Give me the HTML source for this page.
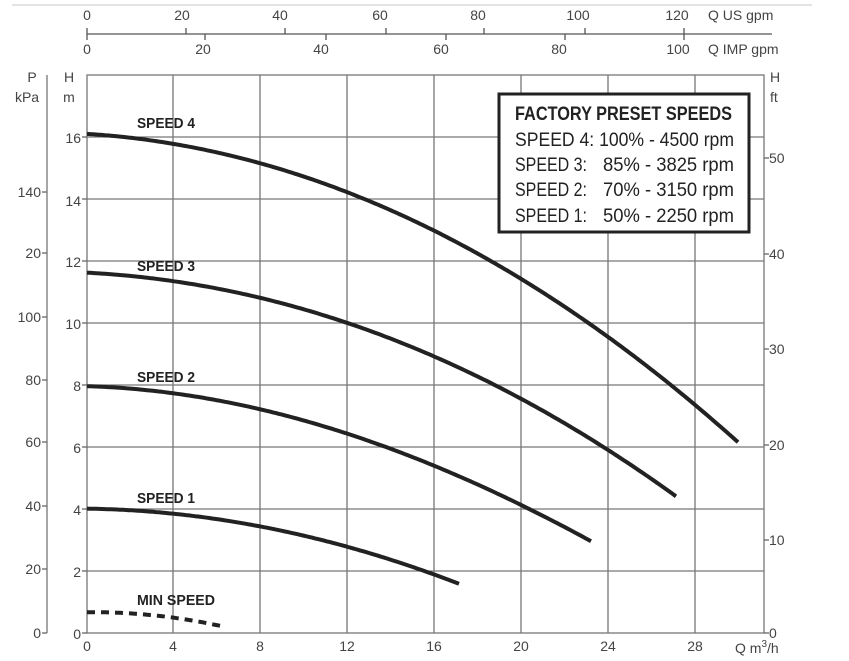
<!DOCTYPE html>
<html><head><meta charset="utf-8"><style>
html,body{margin:0;padding:0;background:#fff;}
svg{display:block;font-family:"Liberation Sans",sans-serif;}
</style></head><body>
<svg id="s" width="849" height="661" viewBox="0 0 849 661" xmlns="http://www.w3.org/2000/svg">
<line x1="12" y1="5" x2="812" y2="5" stroke="#e4e4e4" stroke-width="2"/>
<g stroke="#555" stroke-width="1.3">
<line x1="87" y1="34" x2="772" y2="34"/>
<line x1="87" y1="28" x2="87" y2="40"/>
<line x1="186" y1="28" x2="186" y2="34"/><line x1="285" y1="28" x2="285" y2="34"/><line x1="386" y1="28" x2="386" y2="34"/><line x1="484" y1="28" x2="484" y2="34"/><line x1="585" y1="28" x2="585" y2="34"/><line x1="684" y1="28" x2="684" y2="34"/>
<line x1="205" y1="34" x2="205" y2="40"/><line x1="326" y1="34" x2="326" y2="40"/><line x1="446" y1="34" x2="446" y2="40"/><line x1="565" y1="34" x2="565" y2="40"/><line x1="684" y1="34" x2="684" y2="40"/>
</g>
<g font-size="14" fill="#444" text-anchor="middle">
<text x="87" y="20">0</text><text x="182" y="20">20</text><text x="280" y="20">40</text><text x="380" y="20">60</text><text x="478" y="20">80</text><text x="578" y="20">100</text><text x="677" y="20">120</text>
<text x="87" y="54">0</text><text x="203" y="54">20</text><text x="321" y="54">40</text><text x="441" y="54">60</text><text x="559" y="54">80</text><text x="678" y="54">100</text>
</g>
<g font-size="14" fill="#444"><text x="708" y="20">Q US gpm</text><text x="708" y="54">Q IMP gpm</text></g>
<g stroke="#777" stroke-width="1.3" fill="none">
<rect x="87" y="75" width="677" height="558"/>
<line x1="173" y1="75" x2="173" y2="633"/><line x1="260" y1="75" x2="260" y2="633"/><line x1="347" y1="75" x2="347" y2="633"/><line x1="434" y1="75" x2="434" y2="633"/><line x1="521" y1="75" x2="521" y2="633"/><line x1="608" y1="75" x2="608" y2="633"/><line x1="695" y1="75" x2="695" y2="633"/>
<line x1="87" y1="137" x2="764" y2="137"/><line x1="87" y1="199" x2="764" y2="199"/><line x1="87" y1="261" x2="764" y2="261"/><line x1="87" y1="323" x2="764" y2="323"/><line x1="87" y1="385" x2="764" y2="385"/><line x1="87" y1="447" x2="764" y2="447"/><line x1="87" y1="509" x2="764" y2="509"/><line x1="87" y1="571" x2="764" y2="571"/>
<line x1="47" y1="75" x2="47" y2="633"/>
<g stroke="#666"><line x1="42" y1="192" x2="47" y2="192"/><line x1="42" y1="253" x2="47" y2="253"/><line x1="42" y1="317" x2="47" y2="317"/><line x1="42" y1="380" x2="47" y2="380"/><line x1="42" y1="442" x2="47" y2="442"/><line x1="42" y1="506" x2="47" y2="506"/><line x1="42" y1="569" x2="47" y2="569"/><line x1="42" y1="633" x2="47" y2="633"/>
<line x1="764" y1="158" x2="769" y2="158"/><line x1="764" y1="254" x2="769" y2="254"/><line x1="764" y1="349" x2="769" y2="349"/><line x1="764" y1="445" x2="769" y2="445"/><line x1="764" y1="540" x2="769" y2="540"/><line x1="764" y1="633" x2="769" y2="633"/>
<line x1="82" y1="137" x2="87" y2="137"/><line x1="82" y1="199" x2="87" y2="199"/><line x1="82" y1="261" x2="87" y2="261"/><line x1="82" y1="323" x2="87" y2="323"/><line x1="82" y1="385" x2="87" y2="385"/><line x1="82" y1="447" x2="87" y2="447"/><line x1="82" y1="509" x2="87" y2="509"/><line x1="82" y1="571" x2="87" y2="571"/><line x1="82" y1="633" x2="87" y2="633"/></g>
</g>
<g font-size="14" fill="#444">
<text x="32" y="82" text-anchor="middle">P</text><text x="27" y="102" text-anchor="middle">kPa</text>
<text x="69" y="82" text-anchor="middle">H</text><text x="69" y="102" text-anchor="middle">m</text>
<text x="770" y="82">H</text><text x="770" y="102">ft</text>
<g text-anchor="end"><text x="41" y="197">140</text><text x="41" y="258">20</text><text x="41" y="322">100</text><text x="41" y="385">80</text><text x="41" y="447">60</text><text x="41" y="511">40</text><text x="41" y="574">20</text><text x="41" y="638">0</text>
<text x="81" y="143">16</text><text x="81" y="206">14</text><text x="81" y="267">12</text><text x="81" y="329">10</text><text x="81" y="391">8</text><text x="81" y="453">6</text><text x="81" y="515">4</text><text x="81" y="577">2</text><text x="81" y="639">0</text></g>
<text x="769" y="163">50</text><text x="769" y="259">40</text><text x="769" y="354">30</text><text x="769" y="450">20</text><text x="769" y="545">10</text><text x="769" y="638">0</text>
<g text-anchor="middle"><text x="87" y="651">0</text><text x="173" y="651">4</text><text x="260" y="651">8</text><text x="347" y="651">12</text><text x="434" y="651">16</text><text x="521" y="651">20</text><text x="608" y="651">24</text><text x="695" y="651">28</text></g>
<text x="735" y="653">Q m<tspan font-size="10" dy="-6">3</tspan><tspan dy="6">/h</tspan></text>
</g>
<g id="curves" fill="none" stroke="#222" stroke-width="4" stroke-linecap="butt" stroke-linejoin="round">
<polyline id="c4" points="87,135 130,137 173,143 220,152 260,164 305,177 347,193 390,210 434,230 478,254 521,280 565,307 608,337 652,369 695,403 738,444"/>
<polyline id="c3" points="87,273 130,276 173,281 217,288 260,297 303,309 347,323 390,339 434,358 478,377 521,398 565,422 608,450 643,473 676,497"/>
<polyline id="c2" points="87,386 130,389 173,393 217,400 260,409 303,421 347,435 390,448 434,463 478,484 521,508 556,523 591,540"/>
<polyline id="c1" points="87,509 130,510 173,513 217,519 260,527 303,536 347,547 390,559 434,573 459,585"/>
<polyline id="c0" points="87,612 130,614 173,617 220,626" stroke-dasharray="8,6"/>
</g>
<g font-size="15" font-weight="bold" fill="#222">
<text x="137" y="128" textLength="58" lengthAdjust="spacingAndGlyphs">SPEED 4</text>
<text x="137" y="271" textLength="58" lengthAdjust="spacingAndGlyphs">SPEED 3</text>
<text x="137" y="382" textLength="58" lengthAdjust="spacingAndGlyphs">SPEED 2</text>
<text x="137" y="503" textLength="58" lengthAdjust="spacingAndGlyphs">SPEED 1</text>
<text x="137" y="605" textLength="78" lengthAdjust="spacingAndGlyphs">MIN SPEED</text>
</g>
<rect x="499" y="94" width="250" height="138" fill="#fff" stroke="#222" stroke-width="3"/>
<g fill="#222" font-size="19">
<text x="515" y="120" font-weight="bold" textLength="217" lengthAdjust="spacingAndGlyphs">FACTORY PRESET SPEEDS</text>
<text x="515" y="146" textLength="219" lengthAdjust="spacingAndGlyphs">SPEED 4: 100% - 4500 rpm</text>
<text x="515" y="171" textLength="72" lengthAdjust="spacingAndGlyphs">SPEED 3:</text><text x="603" y="171" textLength="131" lengthAdjust="spacingAndGlyphs">85% - 3825 rpm</text>
<text x="515" y="196" textLength="72" lengthAdjust="spacingAndGlyphs">SPEED 2:</text><text x="603" y="196" textLength="131" lengthAdjust="spacingAndGlyphs">70% - 3150 rpm</text>
<text x="515" y="222" textLength="72" lengthAdjust="spacingAndGlyphs">SPEED 1:</text><text x="603" y="222" textLength="131" lengthAdjust="spacingAndGlyphs">50% - 2250 rpm</text>
</g>
</svg>
<script>
(function(){
function fit(p,deg){
 var n=deg+1,A=[],b=[],i,j,k;
 for(i=0;i<n;i++){A.push(new Array(n).fill(0));b.push(0);}
 var x0=p[0][0];
 p.forEach(function(q){var x=(q[0]-x0)/100;for(i=0;i<n;i++){b[i]+=Math.pow(x,i)*q[1];for(j=0;j<n;j++)A[i][j]+=Math.pow(x,i+j);}});
 for(i=0;i<n;i++){var m=i;for(k=i+1;k<n;k++)if(Math.abs(A[k][i])>Math.abs(A[m][i]))m=k;
  var t=A[i];A[i]=A[m];A[m]=t;t=b[i];b[i]=b[m];b[m]=t;
  for(k=i+1;k<n;k++){var f=A[k][i]/A[i][i];for(j=i;j<n;j++)A[k][j]-=f*A[i][j];b[k]-=f*b[i];}}
 var c=new Array(n).fill(0);
 for(i=n-1;i>=0;i--){var s=b[i];for(j=i+1;j<n;j++)s-=A[i][j]*c[j];c[i]=s/A[i][i];}
 return function(X){var x=(X-x0)/100,y=0;for(var i=0;i<n;i++)y+=c[i]*Math.pow(x,i);return y;};
}
["c4","c3","c2","c1","c0"].forEach(function(id){
 var pl=document.getElementById(id);
 var p=pl.getAttribute("points").trim().split(/\s+/).map(function(s){return s.split(",").map(Number);});
 var f=fit(p,p.length>5?3:2);
 var x0=p[0][0],x1=p[p.length-1][0],pts=[];
 for(var x=x0;x<x1;x+=3)pts.push(x.toFixed(1)+","+f(x).toFixed(1));
 pts.push(x1+","+f(x1).toFixed(1));
 pl.setAttribute("points",pts.join(" "));
});
})();
</script>
</body></html>
